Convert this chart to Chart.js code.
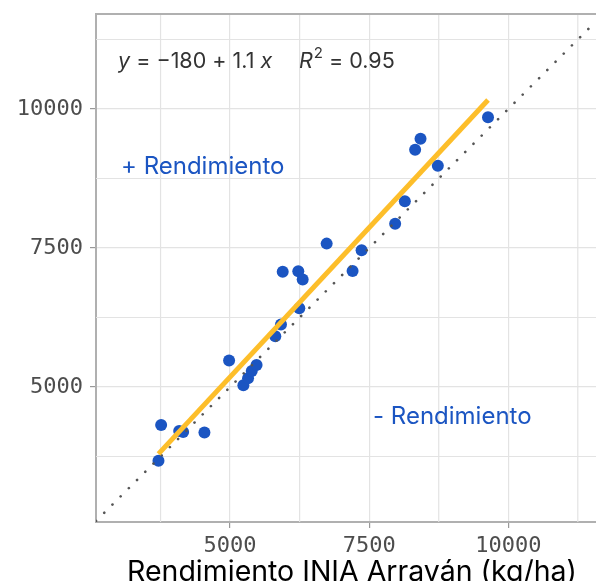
<!DOCTYPE html>
<html>
<head>
<meta charset="utf-8">
<script src="https://cdn.jsdelivr.net/npm/chart.js@4/dist/chart.umd.min.js"></script>
<style>
  html, body { margin: 0; padding: 0; background: #fff; }
  #wrap { width: 596px; height: 581px; }
</style>
</head>
<body>
<div id="wrap"><canvas id="c" width="596" height="581"></canvas></div>
<script>
// rendimiento observado (x) vs rendimiento INIA Arrayán (y), kg/ha
const xVals = [3713, 3761, 4085, 4156, 4539, 4982, 5239, 5323, 5390, 5476, 5813, 5915, 5946,
               6226, 6305, 6244, 6736, 7202, 7364, 7967, 8141, 8326, 8423, 8734, 9636];
const yVals = [3672, 4318, 4210, 4192, 4180, 5476, 5031, 5156, 5287, 5395, 5915, 6125, 7073,
               7082, 6933, 6418, 7579, 7088, 7459, 7938, 8339, 9267, 9464, 8980, 9852];

const majorTicks = [5000, 7500, 10000];
const minorTicks = [3750, 6250, 8750, 11250];
const xLimits = [2590, 11577];
const yLimits = [2572, 11709];

const eqText = { a: '−180', b: '1.1', r2: '0.95' };

const blue = '#1b55c2';
const gold = '#fdbe2a';
const gridCol = '#e3e3e3';
const borderCol = '#b0b0b0';

// ajuste lineal
const n = xVals.length;
const mx = xVals.reduce((s, v) => s + v, 0) / n;
const my = yVals.reduce((s, v) => s + v, 0) / n;
let sxy = 0, sxx = 0;
xVals.forEach((x, i) => { sxy += (x - mx) * (yVals[i] - my); sxx += (x - mx) ** 2; });
const slope = sxy / sxx;
const icpt = my - slope * mx;
const xMin = Math.min(...xVals), xMax = Math.max(...xVals);

const points = xVals.map((x, i) => ({ x, y: yVals[i] }));
const fitLine = [{ x: xMin, y: icpt + slope * xMin }, { x: xMax, y: icpt + slope * xMax }];
const idLine = [{ x: xLimits[0], y: xLimits[0] }, { x: xLimits[1], y: xLimits[1] }];

const minorGrid = {
  id: 'minorGrid',
  beforeDatasetsDraw(chart) {
    const { ctx, chartArea: a, scales: { x, y } } = chart;
    ctx.save();
    ctx.strokeStyle = gridCol;
    ctx.lineWidth = 1.2;
    ctx.beginPath();
    minorTicks.forEach(v => {
      const px = x.getPixelForValue(v);
      if (px > a.left && px < a.right) { ctx.moveTo(px, a.top); ctx.lineTo(px, a.bottom); }
      const py = y.getPixelForValue(v);
      if (py > a.top && py < a.bottom) { ctx.moveTo(a.left, py); ctx.lineTo(a.right, py); }
    });
    ctx.stroke();
    ctx.restore();
  }
};

const textPlugin = {
  id: 'texts',
  afterDraw(chart) {
    const { ctx, chartArea: a } = chart;
    ctx.save();
    // borde superior del panel
    ctx.strokeStyle = borderCol;
    ctx.lineWidth = 2;
    ctx.beginPath();
    ctx.moveTo(a.left, a.top);
    ctx.lineTo(a.right, a.top);
    ctx.stroke();

    ctx.textBaseline = 'alphabetic';
    ctx.fillStyle = '#333';
    let x = 118;
    const base = 68;
    const part = (t, font) => { ctx.font = font; ctx.fillText(t, x, base); x += ctx.measureText(t).width; };
    part('y', 'italic 21.5px Inter');
    part(' = ' + eqText.a + ' + ' + eqText.b + ' ', '21.5px Inter');
    part('x', 'italic 21.5px Inter');
    x = 299;
    part('R', 'italic 21.5px Inter');
    ctx.font = '15px Inter';
    ctx.fillText('2', x + 1, base - 10);
    x += ctx.measureText('2').width + 1;
    part(' = ' + eqText.r2, '21.5px Inter');

    ctx.fillStyle = blue;
    ctx.font = '24px Inter';
    ctx.fillText('+ Rendimiento', 121, 174);
    ctx.fillText('- Rendimiento', 373, 424);

    ctx.fillStyle = '#000';
    ctx.font = '28.5px Inter';
    ctx.textAlign = 'center';
    ctx.fillText('Rendimiento INIA Arrayán (kg/ha)', 352, 581);
    ctx.restore();
  }
};

const noPad = (s) => { s.paddingTop = 0; s.paddingBottom = 0; s.paddingLeft = 0; s.paddingRight = 0; };

const axisCfg = (lim, extra) => ({
  type: 'linear', min: lim[0], max: lim[1],
  afterBuildTicks: (s) => { s.ticks = majorTicks.map(v => ({ value: v })); },
  border: { color: borderCol, width: 2 },
  grid: { color: gridCol, lineWidth: 1.2, tickLength: 6, tickColor: '#999' },
  ...extra
});

new Chart(document.getElementById('c'), {
  type: 'scatter',
  data: {
    datasets: [
      { data: points, backgroundColor: blue, borderColor: blue, pointRadius: 6, pointBorderWidth: 0, order: 3 },
      { type: 'line', data: idLine, borderColor: '#555', borderWidth: 2.6, borderDash: [0.1, 11.5],
        borderCapStyle: 'round', pointRadius: 0, order: 2 },
      { type: 'line', data: fitLine, borderColor: gold, borderWidth: 5, pointRadius: 0, order: 1 },
    ]
  },
  options: {
    responsive: false,
    animation: false,
    layout: { autoPadding: false, padding: { top: 14, right: 0, left: 0, bottom: 0 } },
    plugins: { legend: { display: false }, tooltip: { enabled: false } },
    scales: {
      x: axisCfg(xLimits, {
        afterFit: (s) => { s.height = 59; noPad(s); },
        ticks: { padding: 5, color: '#4d4d4d', font: { family: 'DejaVu Sans Mono', size: 22 },
                 maxRotation: 0, autoSkip: false, callback: (v) => String(v) }
      }),
      y: axisCfg(yLimits, {
        afterFit: (s) => { s.width = 96; noPad(s); },
        ticks: { padding: 7, color: '#4d4d4d', font: { family: 'DejaVu Sans Mono', size: 22 },
                 autoSkip: false, callback: (v) => String(v) }
      })
    }
  },
  plugins: [minorGrid, textPlugin]
});
</script>
</body>
</html>
